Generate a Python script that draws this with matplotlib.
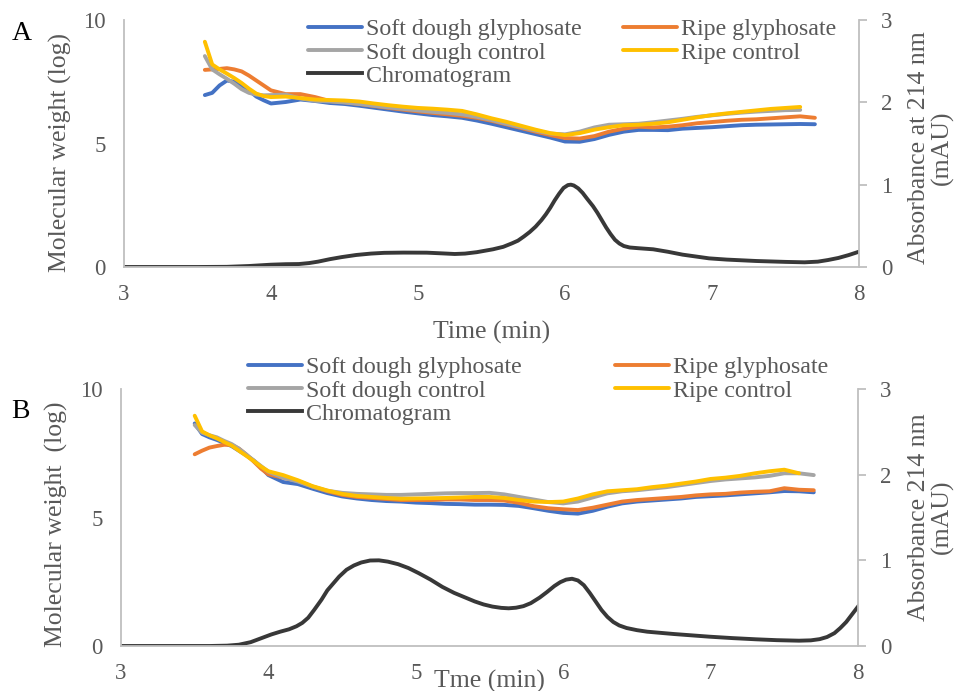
import numpy as np
import matplotlib
matplotlib.use("Agg")
import matplotlib.pyplot as plt

plt.rcParams["font.family"] = ["Liberation Serif", "DejaVu Serif"]

# ---------------- data ----------------
series_names = ["Soft dough glyphosate", "Ripe glyphosate",
                "Soft dough control", "Ripe control"]
chrom_name = "Chromatogram"

nan = np.nan

# Panel A: molecular weight (log) vs time (min)
time_a = [3.55, 3.6, 3.65, 3.7, 3.75, 3.8, 3.85, 3.9, 3.95, 4.0,
          4.1, 4.2, 4.3, 4.4, 4.5, 4.6, 4.7, 4.8, 4.9, 5.0,
          5.1, 5.2, 5.3, 5.4, 5.5, 5.6, 5.7, 5.8, 5.9, 6.0,
          6.1, 6.2, 6.3, 6.4, 6.5, 6.6, 6.7, 6.8, 6.9, 7.0,
          7.1, 7.2, 7.3, 7.4, 7.5, 7.6, 7.7]
sd_gly_a = [6.96, 7.05, 7.35, 7.55, 7.5, 7.35, 7.15, 6.9, 6.75, 6.62,
            6.68, 6.78, 6.72, 6.64, 6.6, 6.53, 6.45, 6.37, 6.29, 6.22,
            6.15, 6.1, 6.04, 5.93, 5.8, 5.66, 5.52, 5.38, 5.24, 5.08,
            5.07, 5.18, 5.35, 5.48, 5.55, 5.55, 5.54, 5.6, 5.63, 5.66,
            5.7, 5.74, 5.76, 5.77, 5.78, 5.79, 5.78]
ripe_gly_a = [7.98, 8.0, 8.02, 8.05, 8.0, 7.92, 7.75, 7.55, 7.35, 7.15,
              7.0, 7.0, 6.88, 6.72, 6.67, 6.6, 6.52, 6.44, 6.37, 6.3,
              6.24, 6.18, 6.12, 6.04, 5.92, 5.78, 5.63, 5.48, 5.34, 5.22,
              5.2, 5.3, 5.48, 5.6, 5.68, 5.65, 5.68, 5.74, 5.82, 5.87,
              5.92, 5.96, 5.98, 6.02, 6.06, 6.1, 6.04]
sd_ctl_a = [8.54, 8.0, 7.8, 7.62, 7.42, 7.2, 7.05, 6.98, 6.95, 6.96,
            6.98, 6.82, 6.73, 6.7, 6.66, 6.6, 6.53, 6.46, 6.4, 6.34,
            6.28, 6.24, 6.18, 6.08, 5.95, 5.8, 5.66, 5.52, 5.4, 5.37,
            5.48, 5.65, 5.76, 5.78, 5.8, 5.86, 5.93, 6.0, 6.08, 6.14,
            6.2, 6.25, 6.29, 6.32, 6.35, 6.36, nan]
ripe_ctl_a = [9.12, 8.2, 8.0, 7.83, 7.65, 7.45, 7.22, 7.02, 6.92, 6.88,
              6.9, 6.84, 6.78, 6.76, 6.74, 6.7, 6.62, 6.55, 6.49, 6.44,
              6.41, 6.37, 6.32, 6.18, 6.02, 5.88, 5.72, 5.56, 5.42, 5.34,
              5.42, 5.56, 5.66, 5.74, 5.76, 5.8, 5.86, 5.96, 6.06, 6.15,
              6.22, 6.28, 6.34, 6.4, 6.44, 6.48, nan]

# Panel A: chromatogram, absorbance at 214 nm (mAU)
chrom_time_a = [3.0, 3.5, 3.7, 3.85, 4.0, 4.1, 4.19, 4.26, 4.32, 4.40,
                4.48, 4.58, 4.68, 4.77, 4.9, 5.06, 5.17, 5.25, 5.32, 5.40,
                5.51, 5.58, 5.64, 5.68, 5.72, 5.76, 5.80, 5.84, 5.87, 5.90,
                5.93, 5.96, 5.99, 6.02, 6.04, 6.06, 6.09, 6.12, 6.15, 6.19,
                6.22, 6.25, 6.28, 6.31, 6.34, 6.37, 6.40, 6.44, 6.50, 6.60,
                6.70, 6.80, 6.90, 6.98, 7.1, 7.3, 7.5, 7.63, 7.72, 7.79,
                7.86, 7.93, 8.0]
chrom_abs_a = [0.0, 0.0, 0.002, 0.012, 0.028, 0.034, 0.036, 0.048, 0.065, 0.095,
               0.12, 0.146, 0.163, 0.172, 0.175, 0.174, 0.165, 0.158, 0.163, 0.18,
               0.215, 0.245, 0.288, 0.32, 0.37, 0.425, 0.49, 0.57, 0.64, 0.72,
               0.81, 0.89, 0.96, 0.995, 1.0, 0.99, 0.955, 0.9, 0.83, 0.74,
               0.66, 0.57, 0.48, 0.4, 0.33, 0.285, 0.255, 0.237, 0.228, 0.215,
               0.185, 0.15, 0.125, 0.105, 0.09, 0.073, 0.062, 0.057, 0.065, 0.085,
               0.11, 0.145, 0.186]

# Panel B: molecular weight (log) vs time (min)
time_b = [3.5, 3.55, 3.6, 3.65, 3.7, 3.75, 3.8, 3.85, 3.9, 3.95, 4.0,
          4.1, 4.2, 4.3, 4.4, 4.5, 4.6, 4.7, 4.8, 4.9, 5.0,
          5.1, 5.2, 5.3, 5.4, 5.5, 5.6, 5.7, 5.8, 5.9, 6.0,
          6.1, 6.2, 6.3, 6.4, 6.5, 6.6, 6.7, 6.8, 6.9, 7.0,
          7.1, 7.2, 7.3, 7.4, 7.5, 7.6, 7.7]
sd_gly_b = [8.66, 8.25, 8.12, 8.02, 7.9, 7.78, 7.6, 7.42, 7.22, 6.95, 6.65,
            6.38, 6.3, 6.12, 5.95, 5.82, 5.74, 5.68, 5.64, 5.62, 5.58,
            5.56, 5.53, 5.52, 5.5, 5.5, 5.49, 5.45, 5.36, 5.26, 5.18,
            5.15, 5.26, 5.42, 5.55, 5.62, 5.66, 5.7, 5.74, 5.8, 5.83,
            5.86, 5.9, 5.94, 5.98, 6.03, 6.02, 5.98]
ripe_gly_b = [7.46, 7.6, 7.72, 7.78, 7.83, 7.82, 7.68, 7.45, 7.18, 6.9, 6.68,
              6.55, 6.42, 6.2, 6.02, 5.88, 5.8, 5.76, 5.72, 5.68, 5.68,
              5.68, 5.7, 5.7, 5.68, 5.68, 5.66, 5.57, 5.44, 5.36, 5.32,
              5.29, 5.38, 5.5, 5.62, 5.68, 5.72, 5.76, 5.8, 5.86, 5.9,
              5.92, 5.97, 6.0, 6.02, 6.14, 6.08, 6.06]
sd_ctl_b = [8.6, 8.3, 8.2, 8.12, 7.98, 7.86, 7.68, 7.45, 7.22, 7.0, 6.78,
            6.55, 6.4, 6.2, 6.04, 5.96, 5.92, 5.9, 5.88, 5.88, 5.9,
            5.92, 5.94, 5.95, 5.95, 5.96, 5.9, 5.8, 5.7, 5.6, 5.55,
            5.62, 5.78, 5.94, 6.02, 6.06, 6.12, 6.18, 6.26, 6.34, 6.42,
            6.48, 6.52, 6.56, 6.62, 6.72, 6.72, 6.65]
ripe_ctl_b = [8.96, 8.35, 8.2, 8.08, 7.94, 7.8, 7.6, 7.4, 7.2, 6.98, 6.8,
              6.65, 6.45, 6.22, 6.05, 5.92, 5.84, 5.8, 5.76, 5.73, 5.74,
              5.75, 5.76, 5.78, 5.8, 5.8, 5.76, 5.68, 5.62, 5.6, 5.62,
              5.74, 5.9, 6.02, 6.06, 6.1, 6.18, 6.24, 6.32, 6.4, 6.5,
              6.55, 6.62, 6.72, 6.8, 6.86, 6.72, nan]

# Panel B: chromatogram
chrom_time_b = [3.0, 3.6, 3.72, 3.80, 3.88, 3.95, 4.02, 4.08, 4.14, 4.19,
                4.23, 4.27, 4.31, 4.36, 4.40, 4.44, 4.48, 4.53, 4.58, 4.63,
                4.69, 4.75, 4.81, 4.88, 4.95, 5.02, 5.10, 5.18, 5.26, 5.33,
                5.40, 5.46, 5.52, 5.58, 5.63, 5.68, 5.73, 5.78, 5.84, 5.89,
                5.94, 5.98, 6.02, 6.06, 6.10, 6.14, 6.18, 6.22, 6.26, 6.30,
                6.34, 6.38, 6.43, 6.50, 6.57, 6.75, 6.99, 7.15, 7.31, 7.45,
                7.60, 7.68, 7.74, 7.79, 7.84, 7.88, 7.92, 7.96, 8.0]
chrom_abs_b = [0.0, 0.0, 0.004, 0.015, 0.045, 0.09, 0.135, 0.167, 0.195, 0.23,
               0.27, 0.33, 0.42, 0.54, 0.65, 0.73, 0.81, 0.89, 0.94, 0.975,
               0.998, 1.0, 0.985, 0.955, 0.91, 0.85, 0.775, 0.69, 0.62, 0.57,
               0.52, 0.485, 0.46, 0.445, 0.44, 0.447, 0.465, 0.5, 0.565, 0.63,
               0.7, 0.745, 0.775, 0.785, 0.765, 0.71, 0.62, 0.52, 0.42, 0.34,
               0.28, 0.24, 0.21, 0.185, 0.167, 0.14, 0.109, 0.092, 0.078, 0.068,
               0.062, 0.066, 0.08, 0.105, 0.15, 0.21, 0.28, 0.37, 0.46]

x_ticks = [3, 4, 5, 6, 7, 8]
mw_ticks = [0, 5, 10]
abs_ticks = [0, 1, 2, 3]

colors = ["#4472C4", "#ED7D31", "#A5A5A5", "#FFC000"]
chrom_color = "#383838"
text_color = "#595959"
axis_color = "#BFBFBF"

# ---------------- figure ----------------
W, H = 961, 691
fig = plt.figure(figsize=(W / 100, H / 100), dpi=100)


def axes_px(left, top, right, bottom):
    return fig.add_axes([left / W, 1 - bottom / H,
                         (right - left) / W, (bottom - top) / H])


def draw_panel(ax, time, mw_series, chrom_t, chrom_v):
    ax2 = ax.twinx()
    lines = []
    for vals, c, name in zip(mw_series, colors, series_names):
        ln, = ax.plot(time, vals, color=c, lw=2.8, label=name,
                      solid_capstyle="round", solid_joinstyle="round")
        lines.append(ln)
    chrom, = ax2.plot(chrom_t, chrom_v, color=chrom_color, lw=2.8,
                      label=chrom_name, solid_joinstyle="round")
    ax.set_xlim(3, 8)
    ax.set_ylim(0, 10)
    ax2.set_ylim(0, 3)
    ax.set_xticks(x_ticks)
    ax.set_yticks(mw_ticks)
    ax2.set_yticks(abs_ticks)
    for s in ["top", "right"]:
        ax.spines[s].set_visible(False)
    for s in ["top", "left", "bottom"]:
        ax2.spines[s].set_visible(False)
    for sp in [ax.spines["left"], ax.spines["bottom"], ax2.spines["right"]]:
        sp.set_color(axis_color)
        sp.set_linewidth(1.3)
    ax.tick_params(axis="y", length=0, pad=13, labelsize=16.5,
                   labelcolor=text_color)
    ax.tick_params(axis="x", length=0, pad=12, labelsize=16.5,
                   labelcolor=text_color)
    ax2.tick_params(axis="y", length=6, width=1.3, color=axis_color,
                    pad=10, labelsize=16.5, labelcolor=text_color)
    ax.set_zorder(ax2.get_zorder() + 1)
    ax.patch.set_visible(False)
    return ax2, lines, chrom


def legend_column(ax, handles, x, y):
    leg = ax.legend(handles, [h.get_label() for h in handles],
                    loc="upper left", bbox_to_anchor=(x / W, 1 - y / H),
                    bbox_transform=fig.transFigure, frameon=False,
                    borderpad=0, borderaxespad=0, handlelength=2.25,
                    handletextpad=0.17, labelspacing=0.06,
                    fontsize=17.3, labelcolor=text_color)
    ax.add_artist(leg)
    ax.legend_ = None
    return leg


def add_legend(ax, lines, chrom, x1, x2, y):
    legend_column(ax, [lines[0], lines[2], chrom], x1, y)
    legend_column(ax, [lines[1], lines[3]], x2, y)


# Panel A
axA = axes_px(124, 20, 859, 267)
axA2, linesA, chromA = draw_panel(
    axA, time_a, [sd_gly_a, ripe_gly_a, sd_ctl_a, ripe_ctl_a],
    chrom_time_a, chrom_abs_a)
add_legend(axA, linesA, chromA, 308, 623, 18.5)
fig.text(22 / W, 1 - 33 / H, "A", fontsize=20, color="black",
         ha="center", va="center")
fig.text(60 / W, 1 - 152 / H, "Molecular weight (log)", rotation=90,
         fontsize=18.5, color=text_color, ha="center", va="center")
fig.text(931 / W, 1 - 148 / H, "Absorbance at 214 nm\n(mAU)", rotation=90,
         fontsize=18.5, color=text_color, ha="center", va="center",
         multialignment="center", linespacing=1.0)
fig.text(492 / W, 1 - 332 / H, "Time (min)", fontsize=18.5,
         color=text_color, ha="center", va="center")

# Panel B
axB = axes_px(121, 389, 858, 646)
axB2, linesB, chromB = draw_panel(
    axB, time_b, [sd_gly_b, ripe_gly_b, sd_ctl_b, ripe_ctl_b],
    chrom_time_b, chrom_abs_b)
add_legend(axB, linesB, chromB, 248, 615, 356.5)
fig.text(20 / W, 1 - 412 / H, "B", fontsize=20, color="black",
         ha="center", va="center")
fig.text(56 / W, 1 - 524 / H, "Molecular weight  (log)", rotation=90,
         fontsize=18.5, color=text_color, ha="center", va="center")
fig.text(931 / W, 1 - 517 / H, "Absorbance 214 nm\n(mAU)", rotation=90,
         fontsize=18.5, color=text_color, ha="center", va="center",
         multialignment="center", linespacing=1.0)
fig.text(489 / W, 1 - 681 / H, "Tme (min)", fontsize=18.5,
         color=text_color, ha="center", va="center")

fig.savefig("out.png", dpi=100, facecolor="white")
